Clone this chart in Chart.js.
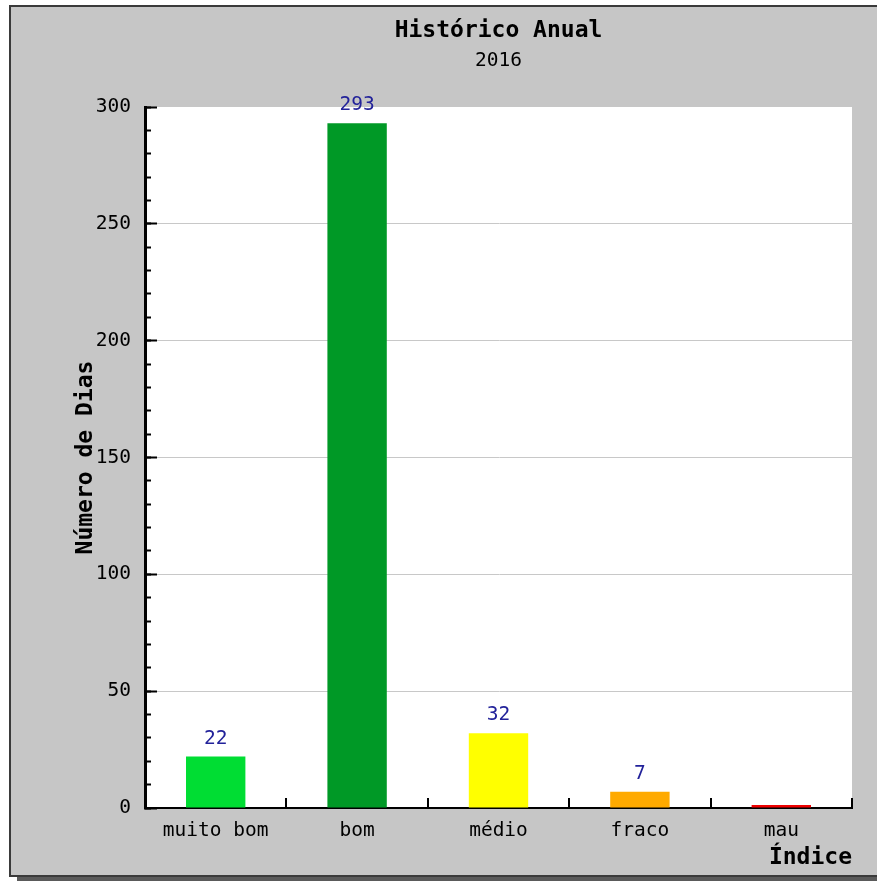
<!DOCTYPE html>
<html>
<head>
<meta charset="utf-8">
<script src="https://cdn.jsdelivr.net/npm/chart.js@4/dist/chart.umd.min.js"></script>
<style>
    body { margin: 0; background: #fff; width: 877px; height: 881px; overflow: hidden; position: relative; }
    .frame {
        position: absolute; left: 9px; top: 5px; width: 900px; height: 872px;
        box-sizing: border-box; border: 2px solid #3a3a3a; background: #c6c6c6;
        box-shadow: 8px 4px 0 #5a5a5a;
    }
    #chart { position: absolute; left: 0; top: 0; }
</style>
</head>
<body>
<div class="frame"></div>
<canvas id="chart" width="877" height="881"></canvas>
<script>
const categories = ['muito bom', 'bom', 'médio', 'fraco', 'mau'];
const days = [22, 293, 32, 7, 0];
const barColors = ['#00dd33', '#009926', '#ffff00', '#ffaa00', '#ee0000'];
const titleText = 'Histórico Anual';
const subtitleText = '2016';
const yTitle = 'Número de Dias';
const xTitle = 'Índice';

const mono = 'DejaVu Sans Mono';

// white plot area + numbers above the bars
const plotBg = {
    id: 'plotBg',
    beforeDraw(chart) {
        const a = chart.chartArea;
        const c = chart.ctx;
        c.save();
        c.fillStyle = '#fff';
        c.fillRect(a.left, a.top, a.right - a.left, a.bottom - a.top);
        c.restore();
    }
};

const valueLabels = {
    id: 'valueLabels',
    afterDatasetsDraw(chart) {
        const c = chart.ctx;
        const meta = chart.getDatasetMeta(0);
        c.save();
        c.font = '19.5px "' + mono + '"';
        c.fillStyle = '#22229a';
        c.textAlign = 'center';
        c.textBaseline = 'alphabetic';
        meta.data.forEach(function (bar, i) {
            if (days[i] > 0) {
                c.fillText(String(days[i]), bar.x, bar.y - 13);
            }
        });
        c.restore();
    }
};

const ctx = document.getElementById('chart');
new Chart(ctx, {
    type: 'bar',
    data: {
        labels: categories,
        datasets: [{
            label: yTitle,
            data: days,
            backgroundColor: barColors,
            borderWidth: 0,
            minBarLength: 3,
            barPercentage: 0.42,
            categoryPercentage: 1
        }]
    },
    options: {
        responsive: false,
        animation: false,
        devicePixelRatio: 1,
        layout: { padding: { left: 0, right: 25, top: 0, bottom: 0 } },
        plugins: {
            legend: { display: false },
            tooltip: { enabled: false },
            title: {
                display: true,
                text: titleText,
                fullSize: false,
                color: '#000',
                font: { family: mono, size: 23, weight: 'bold' },
                padding: { top: 17, bottom: 0 }
            },
            subtitle: {
                display: true,
                text: subtitleText,
                fullSize: false,
                color: '#000',
                font: { family: mono, size: 19.5 },
                padding: { top: 5, bottom: 34 }
            }
        },
        scales: {
            x: {
                grid: {
                    offset: true,
                    drawOnChartArea: false,
                    color: '#000',
                    lineWidth: 2,
                    tickLength: -10
                },
                border: { color: '#000', width: 2 },
                ticks: {
                    color: '#000',
                    font: { family: mono, size: 19.5 },
                    padding: 21
                },
                title: {
                    display: true,
                    text: xTitle,
                    align: 'end',
                    color: '#000',
                    font: { family: mono, size: 23, weight: 'bold' },
                    padding: { top: 0, bottom: 9 }
                },
                afterFit(scale) { scale.height = 73; }
            },
            y: {
                position: 'left',
                weight: 1,
                min: 0,
                max: 300,
                ticks: {
                    stepSize: 10,
                    autoSkip: false,
                    color: '#000',
                    font: { family: mono, size: 19.5 },
                    padding: 20,
                    callback: function (v) { return v % 50 === 0 ? v : ''; }
                },
                grid: {
                    color: function (c) {
                        const v = c.tick ? c.tick.value : 0;
                        return (v % 50 === 0 && v > 0 && v < 300) ? '#c8c8c8' : 'rgba(0,0,0,0)';
                    },
                    lineWidth: 1,
                    tickColor: '#000',
                    tickWidth: 2,
                    tickLength: -6
                },
                border: { color: '#000', width: 3 },
                title: {
                    display: true,
                    text: yTitle,
                    color: '#000',
                    font: { family: mono, size: 23, weight: 'bold' },
                    padding: { top: 72, bottom: 0 }
                },
                afterFit(scale) { scale.width = 145; }
            },
            // longer tick marks every 50
            yMajor: {
                position: 'left',
                weight: 0,
                min: 0,
                max: 300,
                ticks: { display: false, stepSize: 50, autoSkip: false },
                grid: {
                    drawOnChartArea: false,
                    tickColor: '#000',
                    tickWidth: 2,
                    tickLength: -12
                },
                border: { display: false },
                afterFit(scale) { scale.width = 0; }
            }
        }
    },
    plugins: [plotBg, valueLabels]
});
</script>
</body>
</html>
